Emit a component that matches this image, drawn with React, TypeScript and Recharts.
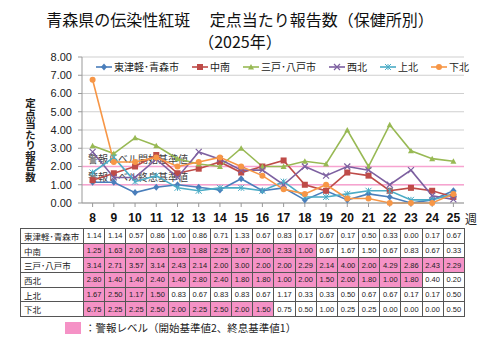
import { CartesianGrid, Line, LineChart, ReferenceLine, XAxis, YAxis } from "recharts"

const weeks = [8, 9, 10, 11, 12, 13, 14, 15, 16, 17, 18, 19, 20, 21, 22, 23, 24, 25]

const higashiTsugaru = [1.14, 1.14, 0.57, 0.86, 1.0, 0.86, 0.71, 1.33, 0.67, 0.83, 0.17, 0.67, 0.17, 0.5, 0.33, 0.0, 0.17, 0.67]
const chunan = [1.25, 1.63, 2.0, 2.63, 1.63, 1.88, 2.25, 1.67, 2.0, 2.33, 1.0, 0.67, 1.67, 1.5, 0.67, 0.83, 0.67, 0.33]
const sannohe = [3.14, 2.71, 3.57, 3.14, 2.43, 2.14, 2.0, 3.0, 2.0, 2.0, 2.29, 2.14, 4.0, 2.0, 4.29, 2.86, 2.43, 2.29]
const seihoku = [2.8, 1.4, 1.4, 2.4, 1.4, 2.8, 2.4, 1.8, 1.8, 1.0, 2.0, 1.5, 2.0, 1.8, 1.0, 1.8, 0.4, 0.2]
const kamikita = [1.67, 2.5, 1.17, 1.5, 0.83, 0.67, 0.83, 0.83, 0.67, 1.17, 0.33, 0.33, 0.5, 0.67, 0.67, 0.17, 0.17, 0.5]
const shimokita = [6.75, 2.25, 2.25, 2.5, 2.0, 2.25, 2.5, 2.0, 1.5, 0.75, 0.5, 1.0, 0.25, 0.25, 0.0, 0.0, 0.0, 0.5]

const seriesNames = ["東津軽･青森市", "中南", "三戸･八戸市", "西北", "上北", "下北"]
const seriesValues = [higashiTsugaru, chunan, sannohe, seihoku, kamikita, shimokita]
const seriesColors = ["#4A7EBB", "#BE4B48", "#98B954", "#7D60A0", "#4BACC6", "#F79646"]
const seriesShapes = ["diamond", "square", "triangle", "x", "star", "circle"]
// last week that is shown pink in the table (0 = none)
const alertUntil = [0, 18, 25, 23, 11, 16]

const yTicks = [0, 1, 2, 3, 4, 5, 6, 7, 8]

const data = weeks.map((w, i) => {
  const row: any = { week: w }
  seriesValues.forEach((vals, s) => {
    row["s" + s] = vals[i]
  })
  return row
})

const PINK = "#F592C6"
const LINE_PINK = "#F7A3D0"
const jp = '"Noto Sans CJK JP", sans-serif'
const num = '"Liberation Sans", sans-serif'

function Marker({ shape, color, cx, cy }: any) {
  const r = 3
  if (shape === "diamond")
    return <path d={`M${cx},${cy - r - 0.5}L${cx + r},${cy}L${cx},${cy + r + 0.5}L${cx - r},${cy}Z`} fill={color} />
  if (shape === "square") return <rect x={cx - r} y={cy - r} width={r * 2} height={r * 2} fill={color} />
  if (shape === "triangle")
    return <path d={`M${cx},${cy - r}L${cx + r},${cy + r - 0.5}L${cx - r},${cy + r - 0.5}Z`} fill={color} />
  if (shape === "x")
    return (
      <path d={`M${cx - r},${cy - r}L${cx + r},${cy + r}M${cx - r},${cy + r}L${cx + r},${cy - r}`} stroke={color} strokeWidth={1.2} />
    )
  if (shape === "star")
    return (
      <path
        d={`M${cx - r},${cy - r}L${cx + r},${cy + r}M${cx - r},${cy + r}L${cx + r},${cy - r}M${cx},${cy - r}L${cx},${cy + r}`}
        stroke={color}
        strokeWidth={1}
      />
    )
  return <circle cx={cx} cy={cy} r={r} fill={color} />
}

const makeDot = (s: number) => (props: any) => {
  const { cx, cy, index } = props
  return (
    <g key={`d${s}-${index}`}>
      <Marker shape={seriesShapes[s]} color={seriesColors[s]} cx={cx} cy={cy} />
    </g>
  )
}

const refLabel = (text: string) => (props: any) => {
  const { viewBox } = props
  return (
    <text x={viewBox.x + 6} y={viewBox.y - 4} fontSize={10} fill="#404040" fontFamily={jp}>
      {text}
    </text>
  )
}

export default function App() {
  return (
    <div style={{ position: "absolute", left: 0, top: 0, width: 480, height: 360, background: "#fff", fontFamily: jp }}>
      <div style={{ position: "absolute", top: 8, left: 0, width: 480, textAlign: "center", fontSize: 16, color: "#111", lineHeight: "22px" }}>
        青森県の伝染性紅斑　 定点当たり報告数（保健所別）
        <br />
        （2025年）
      </div>
      <div
        style={{
          position: "absolute",
          left: 23,
          top: 98,
          writingMode: "vertical-rl",
          fontSize: 10.5,
          fontWeight: "bold",
          color: "#222",
        }}
      >
        定点当たり報告数
      </div>
      <div style={{ position: "absolute", left: 0, top: 0 }}>
        <LineChart width={480} height={230} data={data} margin={{ top: 57, right: 16, left: 0, bottom: 0 }}>
          <CartesianGrid vertical={false} stroke="#CFCFCF" />
          <XAxis
            dataKey="week"
            height={27}
            stroke="#999"
            padding={{ left: 10.6, right: 10.6 }}
            tick={{ fontSize: 12, fill: "#111", fontWeight: "bold", fontFamily: num }}
            tickSize={4}
            tickMargin={6}
          />
          <YAxis
            width={82}
            domain={[0, 8]}
            ticks={yTicks}
            interval={0}
            stroke="#999"
            tickFormatter={(v: number) => Number(v).toFixed(2)}
            tick={{ fontSize: 11, fill: "#222", fontFamily: num }}
            tickSize={4}
            tickMargin={6}
          />
          <ReferenceLine y={2} stroke={LINE_PINK} strokeWidth={1.5} label={refLabel("警報レベル開始基準値")} />
          <ReferenceLine y={1} stroke={LINE_PINK} strokeWidth={1.5} label={refLabel("警報レベル終息基準値")} />
          {seriesNames.map((name, s) => (
            <Line
              key={name}
              dataKey={"s" + s}
              name={name}
              stroke={seriesColors[s]}
              strokeWidth={1.6}
              dot={makeDot(s)}
              activeDot={false}
              isAnimationActive={false}
            />
          ))}
        </LineChart>
      </div>
      <div
        style={{
          position: "absolute",
          left: 96,
          top: 59,
          display: "flex",
          alignItems: "center",
          fontSize: 10,
          color: "#222",
          whiteSpace: "nowrap",
        }}
      >
        {seriesNames.map((name, s) => (
          <div key={name} style={{ display: "flex", alignItems: "center", marginRight: 13 }}>
            <svg width={16} height={10}>
              <line x1={0} y1={5} x2={16} y2={5} stroke={seriesColors[s]} strokeWidth={1.6} />
              <Marker shape={seriesShapes[s]} color={seriesColors[s]} cx={8} cy={5} />
            </svg>
            <span style={{ marginLeft: 2 }}>{name}</span>
          </div>
        ))}
      </div>
      <div style={{ position: "absolute", left: 465, top: 210, fontSize: 12, color: "#222" }}>週</div>
      <table
        style={{
          position: "absolute",
          left: 20,
          top: 228,
          width: 445,
          borderCollapse: "collapse",
          tableLayout: "fixed",
          fontSize: 7.5,
          fontFamily: num,
          color: "#222",
        }}
      >
        <colgroup>
          <col style={{ width: 63 }} />
          {weeks.map((w) => (
            <col key={w} />
          ))}
        </colgroup>
        <tbody>
          {seriesNames.map((name, s) => (
            <tr key={name} style={{ height: 14.7 }}>
              <td style={{ border: "1px solid #555", padding: "0 0 0 3px", fontSize: 8.5, fontFamily: jp, whiteSpace: "nowrap" }}>
                {name}
              </td>
              {seriesValues[s].map((v, i) => (
                <td
                  key={i}
                  style={{
                    border: "1px solid #555",
                    padding: 0,
                    textAlign: "center",
                    background: weeks[i] <= alertUntil[s] ? PINK : "#fff",
                  }}
                >
                  {v.toFixed(2)}
                </td>
              ))}
            </tr>
          ))}
        </tbody>
      </table>
      <div style={{ position: "absolute", left: 65, top: 322, width: 16, height: 12, background: PINK }} />
      <div style={{ position: "absolute", left: 85, top: 320, fontSize: 10.5, color: "#222" }}>：警報レベル（開始基準値2、終息基準値1）</div>
    </div>
  )
}
